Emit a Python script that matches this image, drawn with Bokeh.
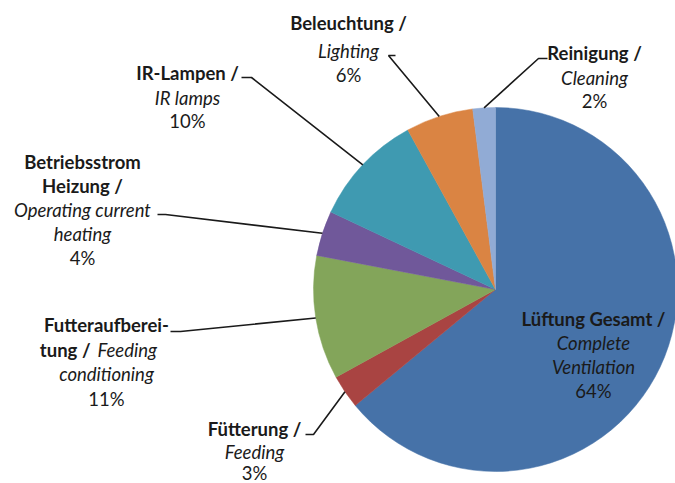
import numpy as np
from bokeh.plotting import figure
from bokeh.models import Range1d, ColumnDataSource
from bokeh.core.properties import value
from bokeh.embed import file_html
from bokeh.resources import INLINE

# ---- data ----
categories_de = ["Lüftung Gesamt /", "Fütterung /", "Futteraufbereitung /", "Betriebsstrom Heizung /",
                 "IR-Lampen /", "Beleuchtung /", "Reinigung /"]
categories_en = ["Complete Ventilation", "Feeding", "Feeding conditioning", "Operating current heating",
                 "IR lamps", "Lighting", "Cleaning"]
shares = [64, 3, 11, 4, 10, 6, 2]
pct_labels = ["64%", "3%", "11%", "4%", "10%", "6%", "2%"]
colors = ["#4672A8", "#A94442", "#83A55A", "#70589A", "#3F9AB1", "#DA8443", "#91ABD5"]

W, H = 675, 483
FONT = "Lato"
TXT = "#1a1a1a"
FS = "18.5px"

def sx(X):
    return X

def sy(Y):
    return H - Y

p = figure(width=W, height=H, output_backend="svg", toolbar_location=None,
           x_range=Range1d(0, W), y_range=Range1d(0, H), min_border=0)
p.axis.visible = False
p.grid.visible = False
p.outline_line_color = None

cx, cy, r = sx(495), sy(289), 182
vals = np.array(shares, dtype=float)
frac = vals / vals.sum()
cum = np.concatenate([[0], np.cumsum(frac)])
start = np.pi / 2 - 2 * np.pi * cum[:-1]
end = np.pi / 2 - 2 * np.pi * cum[1:]
mid = (start + end) / 2

src = ColumnDataSource(dict(start=start, end=end, color=colors))
p.wedge(x=cx, y=cy, radius=r, start_angle="start", end_angle="end", direction="clock",
        fill_color="color", line_color="color", line_width=0.5, source=src)

# rim points for leader lines
rim_x = cx + r * np.cos(mid)
rim_y = cy + r * np.sin(mid)

def txt(X, Y, s, bold=False, italic=False, align="center", size=FS):
    style = "bold" if bold else ("italic" if italic else "normal")
    p.text(x=[sx(X)], y=[sy(Y)], text=[s], text_font=value(FONT), text_font_size=size,
           text_font_style=style, text_color=TXT, text_align=align, text_baseline="middle")

def leader(i, X0, X1, Y):
    xs = [sx(X0), sx(X1), rim_x[i]]
    ys = [sy(Y), sy(Y), rim_y[i]]
    p.line(xs, ys, line_color="#1a1a1a", line_width=1.6)

# Lüftung (inside)
txt(593, 318, "Lüftung Gesamt /", bold=True)
txt(593, 342, "Complete", italic=True)
txt(593, 366, "Ventilation", italic=True)
txt(593, 390, pct_labels[0])

# Fütterung
txt(254, 428, "Fütterung /", bold=True)
txt(254, 451, "Feeding", italic=True)
txt(254, 472, pct_labels[1])
leader(1, 305, 313, 434)

# Futteraufbereitung
txt(106, 324, "Futteraufberei-", bold=True)
txt(90, 349, "tung /", bold=True, align="right")
txt(97, 349, "Feeding", italic=True, align="left")
txt(106, 373, "conditioning", italic=True)
txt(106, 398, pct_labels[2])
leader(2, 170, 180, 331)

# Betriebsstrom Heizung
txt(82, 161, "Betriebsstrom", bold=True)
txt(82, 185, "Heizung /", bold=True)
txt(82, 209, "Operating current", italic=True)
txt(82, 233, "heating", italic=True)
txt(82, 257, pct_labels[3])
leader(3, 157, 165, 214)

# IR-Lampen
txt(187, 72, "IR-Lampen /", bold=True)
txt(187, 97, "IR lamps", italic=True)
txt(187, 120, pct_labels[4])
leader(4, 241, 251, 77)

# Beleuchtung
txt(348, 22, "Beleuchtung /", bold=True)
txt(348, 50, "Lighting", italic=True)
txt(348, 74, pct_labels[5])
leader(5, 395, 388, 55)

# Reinigung
txt(594, 52, "Reinigung /", bold=True)
txt(594, 77, "Cleaning", italic=True)
txt(594, 100, pct_labels[6])
leader(6, 547, 538, 58)

open("out.html", "w").write(file_html(p, INLINE))
